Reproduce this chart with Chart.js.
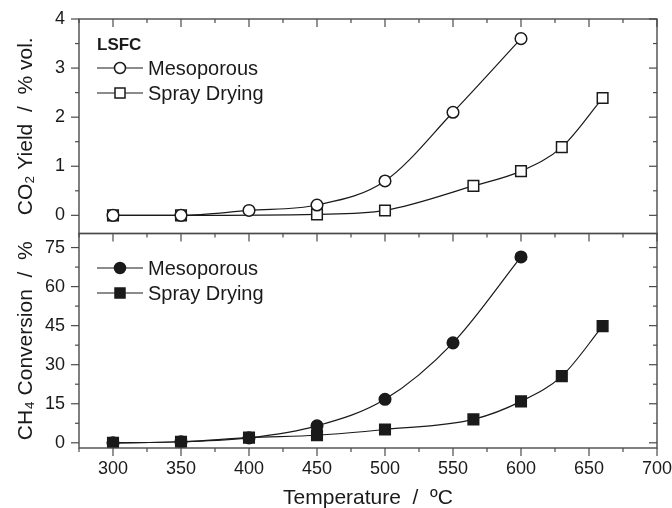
<!DOCTYPE html>
<html>
<head>
<meta charset="utf-8">
<script src="https://cdn.jsdelivr.net/npm/chart.js@4.4.1/dist/chart.umd.min.js"></script>
<style>
  html, body { margin: 0; padding: 0; background: #fff; }
  #wrap { width: 672px; height: 508px; }
</style>
</head>
<body>
<div id="wrap"><canvas id="chart" width="672" height="508"></canvas></div>
<script>
const tempMeso = [300, 350, 400, 450, 500, 550, 600];
const co2Meso = [0, 0, 0.1, 0.21, 0.7, 2.1, 3.6];
const ch4Meso = [0, 0.4, 1.9, 6.5, 16.7, 38.4, 71.4];

const tempSprayCO2 = [300, 350, 450, 500, 565, 600, 630, 660];
const co2Spray = [0, 0, 0.02, 0.1, 0.6, 0.9, 1.39, 2.39];
const tempSprayCH4 = [300, 350, 400, 450, 500, 565, 600, 630, 660];
const ch4Spray = [0, 0.4, 2.0, 2.9, 5.1, 9.0, 15.9, 25.6, 44.8];

const xTicks = [300, 350, 400, 450, 500, 550, 600, 650, 700];
const co2Ticks = [0, 1, 2, 3, 4];
const ch4Ticks = [0, 15, 30, 45, 60, 75];

const ink = "#1a1a1a";
const frame = "#4a4a4a";
const font = "'Liberation Sans', Arial, sans-serif";

function pts(xs, ys) {
  return xs.map((x, i) => ({ x: x, y: ys[i] }));
}

function series(label, xs, ys, axis, style, filled) {
  return {
    label: label,
    data: pts(xs, ys),
    yAxisID: axis,
    borderColor: ink,
    borderWidth: 1.2,
    cubicInterpolationMode: "monotone",
    pointStyle: style,
    pointRadius: style === "rect" ? 7.5 : 5.8,
    pointBorderWidth: 1.5,
    pointBorderColor: ink,
    pointBackgroundColor: filled ? ink : "#fff"
  };
}

// tick marks and panel frames
const tickMarks = {
  id: "tickMarks",
  afterDatasetsDraw(chart) {
    const { ctx, scales: { x, y, y2 } } = chart;
    const L = x.left, R = x.right;
    ctx.save();
    ctx.strokeStyle = frame;
    ctx.lineWidth = 1.4;
    [y2, y].forEach(s => ctx.strokeRect(L, s.top, R - L, s.bottom - s.top));

    ctx.lineWidth = 1.2;
    const seg = (x1, y1, x2, y2_) => {
      ctx.beginPath(); ctx.moveTo(x1, y1); ctx.lineTo(x2, y2_); ctx.stroke();
    };

    // x ticks
    const xMinor = xTicks.map(v => v - 25);
    [[xTicks, 8], [xMinor, 4]].forEach(([vals, len]) => {
      vals.forEach(v => {
        if (v < x.min || v > x.max) return;
        const px = x.getPixelForValue(v);
        seg(px, y2.top, px, y2.top + len);       // top panel, inward
        seg(px, y.top, px, y.top + len);         // bottom panel top, inward
        seg(px, y.bottom, px, y.bottom + len);   // bottom axis, outward
      });
    });

    // y ticks
    [[y2, co2Ticks, 0.5], [y, ch4Ticks, 7.5]].forEach(([s, vals, half]) => {
      const minor = vals.map(v => v + half);
      [[vals, 8], [minor, 4]].forEach(([list, len]) => {
        list.forEach(v => {
          if (v < s.min || v > s.max) return;
          const py = s.getPixelForValue(v);
          seg(L - len, py, L, py);
          seg(R - len, py, R, py);
        });
      });
    });
    ctx.restore();
  }
};

function marker(ctx, style, filled, cx, cy) {
  ctx.beginPath();
  if (style === "rect") {
    ctx.rect(cx - 5, cy - 5, 10, 10);
  } else {
    ctx.arc(cx, cy, 5.5, 0, Math.PI * 2);
  }
  ctx.fillStyle = filled ? ink : "#fff";
  ctx.fill();
  ctx.lineWidth = 1.5;
  ctx.strokeStyle = ink;
  ctx.stroke();
}

const legendPanel = {
  id: "legendPanel",
  afterDraw(chart) {
    const ctx = chart.ctx;
    ctx.save();
    ctx.fillStyle = ink;
    ctx.textBaseline = "middle";
    ctx.font = "bold 17px " + font;
    ctx.fillText("LSFC", 97, 45);
    const rows = [
      ["Mesoporous", "circle", false, 68],
      ["Spray Drying", "rect", false, 93],
      ["Mesoporous", "circle", true, 268],
      ["Spray Drying", "rect", true, 293]
    ];
    rows.forEach(([txt, style, filled, yy]) => {
      ctx.strokeStyle = ink;
      ctx.lineWidth = 1.2;
      ctx.beginPath(); ctx.moveTo(97, yy); ctx.lineTo(143, yy); ctx.stroke();
      marker(ctx, style, filled, 120, yy);
      ctx.fillStyle = ink;
      ctx.font = "20px " + font;
      ctx.fillText(txt, 148, yy + 1);
    });
    ctx.restore();
  }
};

const tickFont = { family: font, size: 18 };
const titleFont = { family: font, size: 21 };

new Chart(document.getElementById("chart"), {
  type: "line",
  data: {
    datasets: [
      series("Mesoporous", tempMeso, co2Meso, "y2", "circle", false),
      series("Spray Drying", tempSprayCO2, co2Spray, "y2", "rect", false),
      series("Mesoporous", tempMeso, ch4Meso, "y", "circle", true),
      series("Spray Drying", tempSprayCH4, ch4Spray, "y", "rect", true)
    ]
  },
  options: {
    responsive: false,
    animation: false,
    layout: { autoPadding: false, padding: { top: 19, right: 15, left: 0, bottom: 0 } },
    plugins: { legend: { display: false }, tooltip: { enabled: false } },
    scales: {
      x: {
        type: "linear",
        min: 275,
        max: 700,
        grid: { display: false, drawTicks: false },
        border: { display: false },
        afterBuildTicks: s => { s.ticks = xTicks.map(v => ({ value: v })); },
        afterFit: s => { s.height = 60; s.paddingLeft = 0; s.paddingRight = 0; },
        ticks: { color: ink, font: tickFont, padding: 10, maxRotation: 0, autoSkip: false },
        title: { display: true, text: "Temperature  /  ºC", color: ink, font: titleFont, padding: { top: 0, bottom: -3 } }
      },
      y: {
        type: "linear",
        position: "left",
        stack: "panels",
        stackWeight: 1,
        min: -2,
        max: 80.4,
        grid: { display: false, drawTicks: false },
        border: { display: false },
        afterBuildTicks: s => { s.ticks = ch4Ticks.map(v => ({ value: v })); },
        afterFit: s => { s.width = 79; s.paddingTop = 0; s.paddingBottom = 0; },
        ticks: { color: ink, font: tickFont, padding: 14, autoSkip: false },
        title: { display: true, text: "CH₄ Conversion  /  %", color: ink, font: titleFont, padding: { top: 14, bottom: 0 } }
      },
      y2: {
        type: "linear",
        position: "left",
        stack: "panels",
        stackWeight: 1,
        min: -0.37,
        max: 4,
        grid: { display: false, drawTicks: false },
        border: { display: false },
        afterBuildTicks: s => { s.ticks = co2Ticks.map(v => ({ value: v })); },
        afterFit: s => { s.width = 79; s.paddingTop = 0; s.paddingBottom = 0; },
        ticks: { color: ink, font: tickFont, padding: 14, autoSkip: false },
        title: { display: true, text: "CO₂ Yield  /  % vol.", color: ink, font: titleFont, padding: { top: 14, bottom: 0 } }
      }
    }
  },
  plugins: [tickMarks, legendPanel]
});
</script>
</body>
</html>
